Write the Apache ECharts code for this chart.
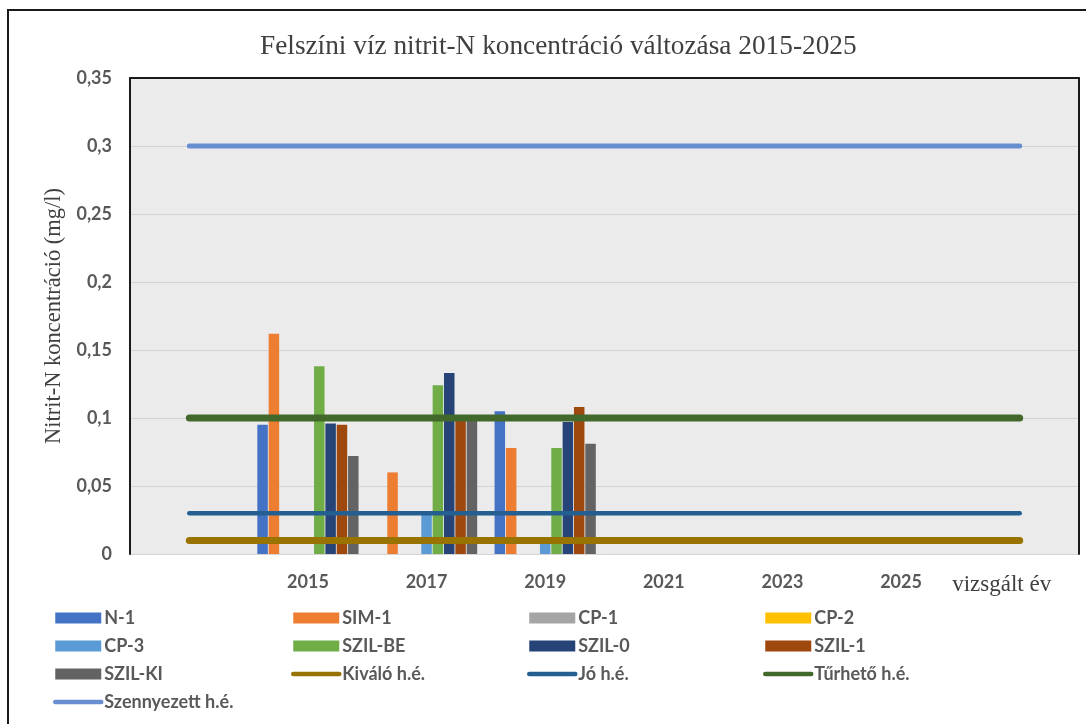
<!DOCTYPE html>
<html>
<head>
<meta charset="utf-8">
<script src="https://cdn.jsdelivr.net/npm/echarts@6/dist/echarts.min.js"></script>
<style>html,body{margin:0;padding:0;background:#fff}#c{width:1086px;height:724px}</style>
</head>
<body>
<div id="c"></div>
<script>
// ---- data ----
const years = [2015, 2017, 2019];
const seriesNames = ['N-1', 'SIM-1', 'CP-1', 'CP-2', 'CP-3', 'SZIL-BE', 'SZIL-0', 'SZIL-1', 'SZIL-KI'];
const n1     = [0.095, null,  0.105];
const sim1   = [0.162, 0.060, 0.078];
const cp1    = [null,  null,  null];
const cp2    = [null,  null,  null];
const cp3    = [null,  0.029, 0.010];
const szilBe = [0.138, 0.124, 0.078];
const szil0  = [0.096, 0.133, 0.097];
const szil1  = [0.095, 0.102, 0.108];
const szilKi = [0.072, 0.101, 0.081];
const barValues = [n1, sim1, cp1, cp2, cp3, szilBe, szil0, szil1, szilKi];

const thresholdNames = ['Kiváló h.é.', 'Jó h.é.', 'Tűrhető h.é.', 'Szennyezett h.é.'];
const thresholdValues = [0.01, 0.03, 0.1, 0.3];
const thresholdSpan = [2013, 2027];           // first and last year of the threshold lines
const xTickLabels = [2015, 2017, 2019, 2021, 2023, 2025];
const xEndLabel = 'vizsgált év';
const yTickStep = 0.05;

// ---- styles ----
const barColors = ['#4472C4', '#ED7D31', '#A5A5A5', '#FFC000', '#5B9BD5', '#70AD47', '#264478', '#9E480E', '#636363'];
const lineColors = ['#997300', '#255E91', '#43682B', '#698ED0'];
const lineWidths = [7, 4.5, 7, 5];
const sans = 'Lato, "Open Sans", sans-serif';
const serif = '"Liberation Serif", "DejaVu Serif", serif';
const txt = '#595959';

const series = [];
seriesNames.forEach((nm, i) => {
  series.push({
    name: nm, type: 'bar', barWidth: 10.5, barGap: '8%',
    itemStyle: { color: barColors[i] },
    data: years.map((y, k) => [y, barValues[i][k]])
  });
});
thresholdNames.forEach((nm, i) => {
  series.push({
    name: nm, type: 'line', symbol: 'none', silent: true,
    lineStyle: { color: lineColors[i], width: lineWidths[i], cap: 'round' },
    itemStyle: { color: lineColors[i] },
    data: thresholdSpan.map(y => [y, thresholdValues[i]])
  });
});

const legendCols = [
  ['N-1', 'CP-3', 'SZIL-KI', 'Szennyezett h.é.'],
  ['SIM-1', 'SZIL-BE', 'Kiváló h.é.'],
  ['CP-1', 'SZIL-0', 'Jó h.é.'],
  ['CP-2', 'SZIL-1', 'Tűrhető h.é.']
];
const legendLefts = [48, 286, 522, 758];
const legends = legendCols.map((col, ci) => ({
  orient: 'vertical', left: legendLefts[ci], top: 604,
  itemWidth: 46, itemHeight: 11, itemGap: 10,
  selectedMode: false,
  textStyle: { fontFamily: sans, fontSize: 18, color: txt, fontWeight: 'bold', lineHeight: 16, padding: [0, 0, 0, -2] },
  data: col.map(nm => {
    const ti = thresholdNames.indexOf(nm);
    if (ti < 0) return { name: nm, icon: 'rect' };
    return {
      name: nm,
      itemStyle: { color: 'rgba(0,0,0,0)', borderWidth: 0 },
      lineStyle: { width: 4.5, color: lineColors[ti], cap: 'round' }
    };
  })
}));

const chart = echarts.init(document.getElementById('c'));
chart.setOption({
  animation: false,
  backgroundColor: '#fff',
  title: {
    text: 'Felszíni víz nitrit-N koncentráció változása 2015-2025',
    left: 255, top: 28,
    textStyle: { fontFamily: serif, fontSize: 27.3, fontWeight: 'normal', color: '#404040' }
  },
  graphic: [{
    type: 'rect', silent: true,
    shape: { x: 8, y: 10, width: 1200, height: 800 },
    style: { fill: 'none', stroke: '#1a1a1a', lineWidth: 2 }
  }],
  legend: legends,
  grid: { left: 130, right: 7, top: 78, bottom: 170, show: true, backgroundColor: '#ebebeb', borderWidth: 0 },
  xAxis: [{
    type: 'value', min: 2012, max: 2028, interval: 1,
    axisLine: { show: false }, axisTick: { show: false }, splitLine: { show: false },
    axisLabel: {
      margin: 19, fontFamily: sans, fontSize: 18, fontWeight: 'bold', color: txt,
      formatter: v => {
        if (xTickLabels.indexOf(v) >= 0) return String(v);
        if (v === thresholdSpan[1]) return '{n|' + xEndLabel + '}';
        return '';
      },
      rich: { n: { fontFamily: serif, fontSize: 23, fontWeight: 'normal', color: '#404040', padding: [0, 36, 5, 0] } }
    }
  }, {
    type: 'value', position: 'top', min: 2012, max: 2028, interval: 1,
    axisLine: { show: true, onZero: false, lineStyle: { color: '#1a1a1a', width: 2 } },
    axisTick: { show: false }, axisLabel: { show: false }, splitLine: { show: false }
  }],
  yAxis: [{
    type: 'value', min: 0, max: 0.35, interval: yTickStep,
    name: 'Nitrit-N koncentráció (mg/l)', nameLocation: 'middle', nameGap: 64,
    nameTextStyle: { fontFamily: serif, fontSize: 22.5, color: '#404040' },
    axisLine: { show: true, lineStyle: { color: '#1a1a1a', width: 2 } },
    axisTick: { show: false },
    splitLine: { show: true, lineStyle: { color: '#d4d4d4', width: 1 } },
    axisLabel: {
      margin: 18, fontFamily: sans, fontSize: 18, fontWeight: 'bold', color: txt,
      formatter: v => String(+v.toFixed(2)).replace('.', ',')
    }
  }, {
    type: 'value', position: 'right', min: 0, max: 0.35, interval: yTickStep,
    axisLine: { show: true, lineStyle: { color: '#1a1a1a', width: 2 } },
    axisTick: { show: false }, axisLabel: { show: false }, splitLine: { show: false }
  }],
  series: series
});
</script>
</body>
</html>
